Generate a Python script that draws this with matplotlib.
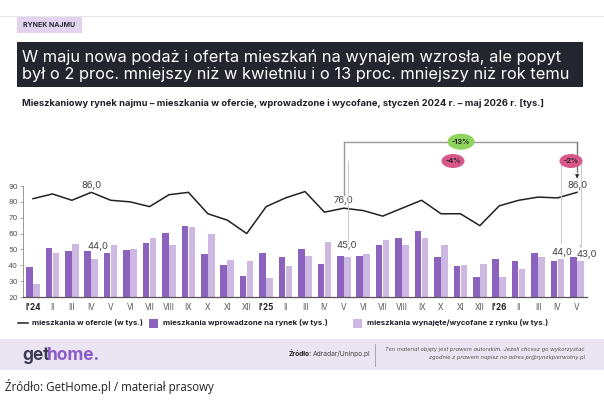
import matplotlib
matplotlib.use("Agg")
import matplotlib.pyplot as plt
from matplotlib.patches import Rectangle, Ellipse
from matplotlib.lines import Line2D
import numpy as np

# ---------------- data ----------------
months = ["I'24", "II", "III", "IV", "V", "VI", "VII", "VIII", "IX", "X", "XI", "XII",
          "I'25", "II", "III", "IV", "V", "VI", "VII", "VIII", "IX", "X", "XI", "XII",
          "I'26", "II", "III", "IV", "V"]
offer = [82, 85, 81, 86, 81, 80, 77, 84.5, 86, 72.5, 68.5, 60,
         77, 82.5, 86.5, 73.5, 76, 74.5, 71, 76, 81, 72.5, 72.5, 65,
         77.5, 81, 83, 82.5, 86]
new_listings = [39, 51, 49, 49, 47.5, 49.5, 54, 60.5, 65, 47, 40, 33,
                47.5, 45, 50.5, 41, 46, 46, 53, 57.5, 61.5, 45, 39.5, 32.5,
                44, 43, 47.5, 43, 45]
removed = [28, 47.5, 53.5, 44, 53, 50, 57, 52.5, 64, 60, 43.5, 42.5,
           32, 39.5, 46, 54.5, 45, 47, 56, 53, 57.5, 53, 40, 40.5,
           32.5, 37.5, 45, 44, 43]
yticks = [20, 30, 40, 50, 60, 70, 80, 90]

title = ("W maju nowa podaż i oferta mieszkań na wynajem wzrosła, ale popyt\n"
         "był o 2 proc. mniejszy niż w kwietniu i o 13 proc. mniejszy niż rok temu")
subtitle = ("Mieszkaniowy rynek najmu – mieszkania w ofercie, wprowadzone i wycofane, "
            "styczeń 2024 r. – maj 2026 r. [tys.]")
leg_labels = ["mieszkania w ofercie (w tys.)",
              "mieszkania wprowadzone na rynek (w tys.)",
              "mieszkania wynajęte/wycofane z rynku (w tys.)"]

C_DARK = "#8b63be"
C_LIGHT = "#cdb8e2"
C_LINE = "#222222"

W, H = 604, 400
fig = plt.figure(figsize=(W / 100, H / 100), dpi=100)
fig.patch.set_facecolor("white")

def fx(x):
    return x / W

def fy(y):
    return 1 - y / H

FONT = ["Inter", "DejaVu Sans"]

# ---------------- header ----------------
fig.add_artist(Line2D([0, 1], [fy(16), fy(16)], color="#e6e6e6", lw=0.8))
fig.add_artist(Rectangle((fx(17), fy(33)), fx(82) - fx(17), fy(17) - fy(33),
                         facecolor="#e2d3ee", edgecolor="none"))
fig.text(fx(49.5), fy(25), "RYNEK NAJMU", fontsize=5, fontweight="bold",
         color="#2b2b3a", ha="center", va="center", family=FONT)
fig.add_artist(Rectangle((fx(17), fy(87)), fx(583) - fx(17), fy(42) - fy(87),
                         facecolor="#24262f", edgecolor="none"))
fig.text(fx(22), fy(66), title, fontsize=11.8, color="white", ha="left",
         va="center", family=FONT, linespacing=1.2)
fig.text(fx(22), fy(103), subtitle, fontsize=6.75, fontweight="bold",
         color="#1f1f2a", ha="left", va="center", family=FONT)

# ---------------- axes ----------------
x0, x1, ytop, ybot = 23.3, 586.7, 186, 297
ax = fig.add_axes([fx(x0), fy(ybot), fx(x1) - fx(x0), fy(ytop) - fy(ybot)])
n = len(months)
x = np.arange(n)
bw = 0.34
ax.bar(x - 0.185, new_listings, width=bw, color=C_DARK, zorder=2)
ax.bar(x + 0.175, removed, width=bw, color=C_LIGHT, zorder=2)
ax.plot(x, offer, color=C_LINE, lw=1.1, zorder=3)
ax.set_xlim(-0.5, n - 0.5)
ax.set_ylim(20, 90)
ax.set_yticks(yticks)
ax.set_yticklabels([str(v) for v in yticks])
ax.set_xticks(x)
ax.set_xticklabels(months)
for lab in ax.get_xticklabels():
    lab.set_family(FONT)
    if "'" in lab.get_text():
        lab.set_fontweight("bold")
        lab.set_color("#222222")
    else:
        lab.set_color("#555555")
for lab in ax.get_yticklabels():
    lab.set_family(FONT)
    lab.set_color("#555555")
ax.tick_params(axis="x", length=0, labelsize=5.8, pad=4.5)
ax.tick_params(axis="y", length=2, width=0.5, color="#888888", labelsize=5.5, pad=2)
for s in ["top", "right"]:
    ax.spines[s].set_visible(False)
ax.spines["left"].set_color("#888888")
ax.spines["left"].set_linewidth(0.6)
ax.spines["bottom"].set_color("#555555")
ax.spines["bottom"].set_linewidth(0.9)
ax.set_facecolor("none")

# value labels
def lab(xi, yv, txt, dx, dy):
    ax.annotate(txt, (xi, yv), xytext=(dx, dy), textcoords="offset pixels",
                ha="center", va="center", fontsize=6.8, color="#444444",
                family=FONT, annotation_clip=False, zorder=5)

lab(3, offer[3], "86,0", 0, 7)
lab(3, removed[3], "44,0", 7, 12)
lab(16, offer[16], "76,0", 0, 8)
lab(16, removed[16], "45,0", 3, 12)
lab(28, offer[28], "86,0", 1, 7)
lab(27, removed[27], "44,0", 4, 6)
lab(28, removed[28], "43,0", 10, 6)

# bracket / change markers (figure pixel coordinates)
def px_of(idx):
    return x0 + (idx + 0.5) * (x1 - x0) / n

xa = px_of(16)
xb = px_of(28)
yb = 141.7
fig.add_artist(Line2D([fx(xa), fx(xa)], [fy(yb), fy(195)], color="#999999", lw=1.0))
fig.add_artist(Line2D([fx(xa), fx(xb)], [fy(yb), fy(yb)], color="#999999", lw=1.0))
fig.add_artist(Line2D([fx(xb), fx(xb)], [fy(yb), fy(172)], color="#777777", lw=1.0))
fig.add_artist(Line2D([fx(xa + 4), fx(xa + 4)], [fy(161), fy(243)], color="#cccccc", lw=0.8))
fig.add_artist(Line2D([fx(561), fx(561)], [fy(161), fy(243)], color="#cccccc", lw=0.8))
fig.add_artist(Line2D([fx(581), fx(581)], [fy(161), fy(244)], color="#cccccc", lw=0.8))
fig.text(fx(xb), fy(177), "▼", fontsize=4, color="#222222", ha="center", va="center")
fig.text(fx(581), fy(246), "▼", fontsize=3.5, color="#cccccc", ha="center", va="center")

def pill(cx, cy, w, h, color, txt):
    fig.add_artist(Ellipse((fx(cx), fy(cy)), w / W, h / H, facecolor=color,
                           edgecolor="none", zorder=6))
    fig.text(fx(cx), fy(cy), txt, fontsize=5.2, fontweight="bold",
             color="#222222", ha="center", va="center", family=FONT, zorder=7)

pill(461, yb, 27, 16, "#8ed35c", "-13%")
pill(453, 161, 23, 14, "#d8588b", "-4%")
pill(571, 161, 23, 14, "#d8588b", "-2%")

# ---------------- legend ----------------
ly = 323
LFS = 5.6
fig.add_artist(Line2D([fx(18), fx(28)], [fy(ly), fy(ly)], color=C_LINE, lw=1.1))
fig.text(fx(32), fy(ly), leg_labels[0], fontsize=LFS, fontweight="bold",
         color="#1f1f2a", ha="left", va="center", family=FONT)
fig.add_artist(Rectangle((fx(149), fy(ly + 4.5)), 9 / W, 9 / H, facecolor=C_DARK, edgecolor="none"))
fig.text(fx(163), fy(ly), leg_labels[1], fontsize=LFS, fontweight="bold",
         color="#1f1f2a", ha="left", va="center", family=FONT)
fig.add_artist(Rectangle((fx(353), fy(ly + 4.5)), 9 / W, 9 / H, facecolor=C_LIGHT, edgecolor="none"))
fig.text(fx(367), fy(ly), leg_labels[2], fontsize=LFS, fontweight="bold",
         color="#1f1f2a", ha="left", va="center", family=FONT)

# ---------------- footer ----------------
fig.add_artist(Rectangle((0, fy(370)), 1, fy(339) - fy(370),
                         facecolor="#ebe4f2", edgecolor="none"))
fig.text(fx(22), fy(355), "get", fontsize=12.5, fontweight="bold",
         color="#3b3b55", ha="left", va="center", family=FONT)
fig.text(fx(47), fy(355), "home.", fontsize=12.5, fontweight="bold",
         color="#8a5cc7", ha="left", va="center", family=FONT)
fig.text(fx(312), fy(354), "Źródło:", fontsize=4.8, fontweight="bold",
         color="#222222", ha="right", va="center", family=FONT)
fig.text(fx(313), fy(354), "Adradar/Uninpo.pl", fontsize=4.8,
         color="#444444", ha="left", va="center", family=FONT)
fig.add_artist(Line2D([fx(375), fx(375)], [fy(344), fy(366)], color="#999999", lw=0.6))
fig.text(fx(585), fy(350), "Ten materiał objęty jest prawem autorskim. Jeżeli chcesz go wykorzystać",
         fontsize=4.1, color="#555555", ha="right", va="center", family=FONT, style="italic")
fig.text(fx(585), fy(357.5), "zgodnie z prawem napisz na adres pr@rynekpierwotny.pl",
         fontsize=4.1, color="#555555", ha="right", va="center", family=FONT, style="italic")

fig.text(fx(5), fy(386), "Źródło: GetHome.pl / materiał prasowy", fontsize=8.3,
         color="#222222", ha="left", va="center", family=["Open Sans", "DejaVu Sans"])

fig.savefig("out.png", dpi=100, facecolor="white")
